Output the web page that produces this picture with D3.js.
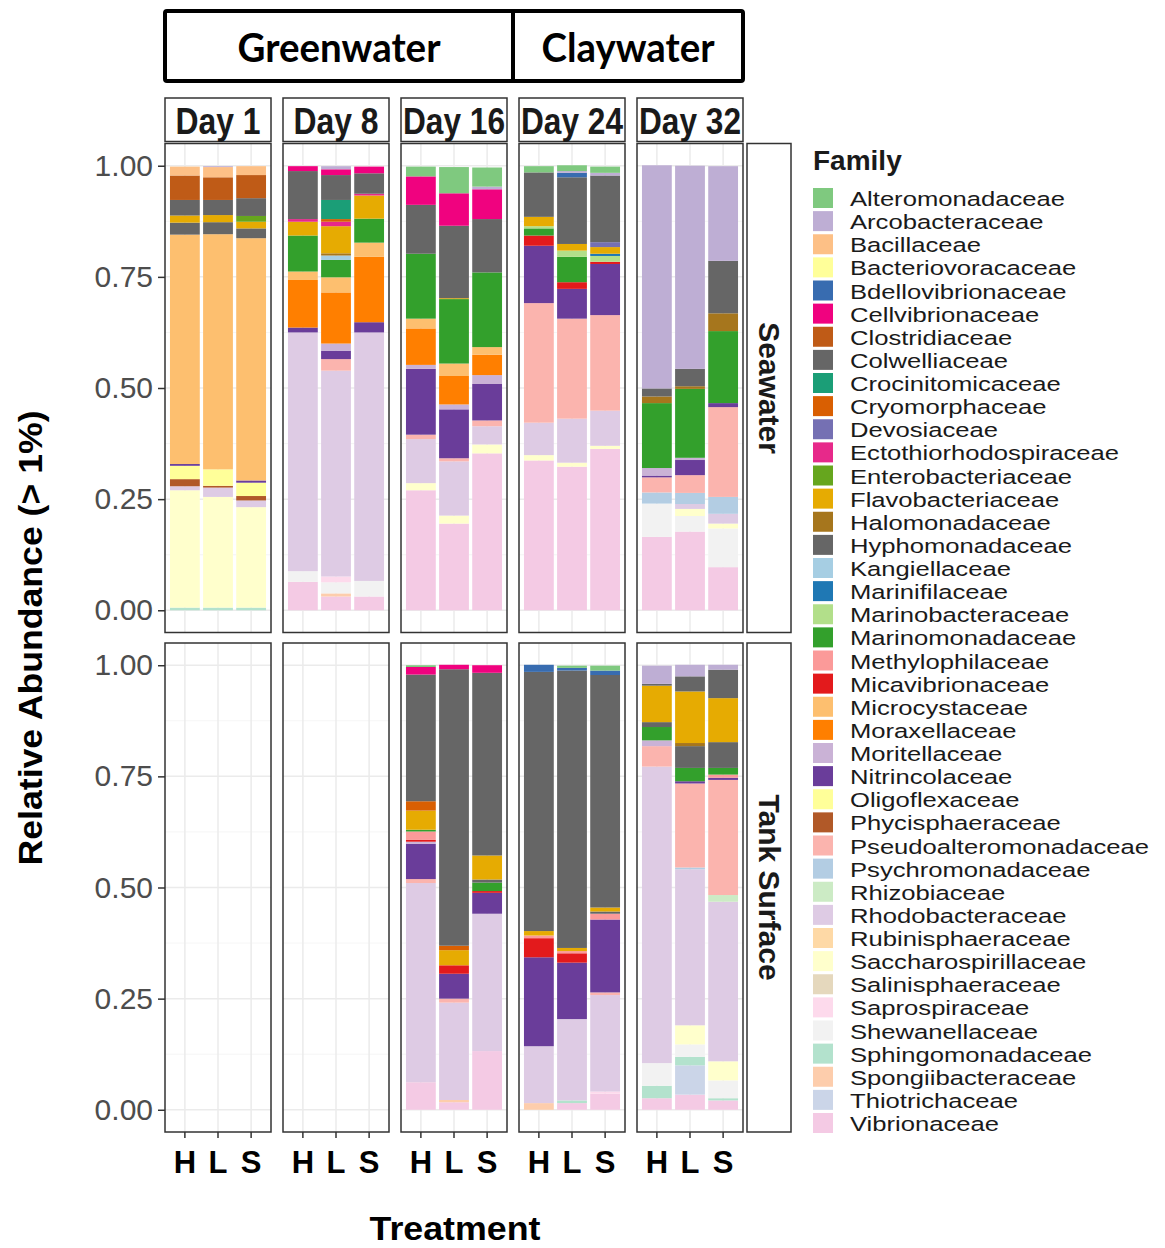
<!DOCTYPE html>
<html>
<head>
<meta charset="utf-8">
<script src="https://cdn.jsdelivr.net/npm/d3@7"></script>
<style>
  body { margin: 0; background: #fff; }
  svg text { font-family: "Liberation Sans", Arial, sans-serif; }
</style>
</head>
<body>
<div id="chart"></div>
<script>
// Families in legend order (first one sits on top of each bar)
const families = [
  "Alteromonadaceae", "Arcobacteraceae", "Bacillaceae", "Bacteriovoracaceae",
  "Bdellovibrionaceae", "Cellvibrionaceae", "Clostridiaceae", "Colwelliaceae",
  "Crocinitomicaceae", "Cryomorphaceae", "Devosiaceae", "Ectothiorhodospiraceae",
  "Enterobacteriaceae", "Flavobacteriaceae", "Halomonadaceae", "Hyphomonadaceae",
  "Kangiellaceae", "Marinifilaceae", "Marinobacteraceae", "Marinomonadaceae",
  "Methylophilaceae", "Micavibrionaceae", "Microcystaceae", "Moraxellaceae",
  "Moritellaceae", "Nitrincolaceae", "Oligoflexaceae", "Phycisphaeraceae",
  "Pseudoalteromonadaceae", "Psychromonadaceae", "Rhizobiaceae", "Rhodobacteraceae",
  "Rubinisphaeraceae", "Saccharospirillaceae", "Salinisphaeraceae", "Saprospiraceae",
  "Shewanellaceae", "Sphingomonadaceae", "Spongiibacteraceae", "Thiotrichaceae",
  "Vibrionaceae"
];
const familyColors = [
  "#7fc97f", "#beaed4", "#fdc086", "#ffff99", "#386cb0", "#f0027f", "#bf5b17", "#666666",
  "#1b9e77", "#d95f02", "#7570b3", "#e7298a", "#66a61e", "#e6ab02", "#a6761d", "#666666",
  "#a6cee3", "#1f78b4", "#b2df8a", "#33a02c", "#fb9a99", "#e31a1c", "#fdbf6f", "#ff7f00",
  "#cab2d6", "#6a3d9a", "#ffff99", "#b15928", "#fbb4ae", "#b3cde3", "#ccebc5", "#decbe4",
  "#fed9a6", "#ffffcc", "#e5d8bd", "#fddaec", "#f2f2f2", "#b3e2cd", "#fdcdac", "#cbd5e8",
  "#f4cae4"
];
const days = ["Day 1", "Day 8", "Day 16", "Day 24", "Day 32"];
const treatments = ["H", "L", "S"];
const habitats = ["Seawater", "Tank Surface"];
const yTicks = [0, 0.25, 0.5, 0.75, 1];
const yMinor = [0.125, 0.375, 0.625, 0.875];
const waterTypes = ["Greenwater", "Claywater"];

// Relative abundance per sample, one object per treatment (H, L, S)
const seaDay1 = [
  {Bacillaceae: .020, Clostridiaceae: .055, Colwelliaceae: .035, Flavobacteriaceae: .016, Hyphomonadaceae: .027,
   Microcystaceae: .516, Nitrincolaceae: .004, Oligoflexaceae: .030, Phycisphaeraceae: .016, Rhodobacteraceae: .009,
   Saccharospirillaceae: .264, Sphingomonadaceae: .006},
  {Arcobacteraceae: .002, Bacillaceae: .023, Clostridiaceae: .051, Colwelliaceae: .034, Flavobacteriaceae: .016,
   Hyphomonadaceae: .027, Microcystaceae: .529, Oligoflexaceae: .037, Phycisphaeraceae: .004, Rhodobacteraceae: .021,
   Saccharospirillaceae: .249, Sphingomonadaceae: .006},
  {Bacillaceae: .020, Clostridiaceae: .052, Colwelliaceae: .040, Enterobacteriaceae: .013, Flavobacteriaceae: .015,
   Hyphomonadaceae: .022, Microcystaceae: .545, Nitrincolaceae: .005, Oligoflexaceae: .030, Phycisphaeraceae: .010,
   Rhodobacteraceae: .015, Saccharospirillaceae: .226, Sphingomonadaceae: .006}
];
const seaDay8 = [
  {Cellvibrionaceae: .011, Colwelliaceae: .108, Ectothiorhodospiraceae: .006, Flavobacteriaceae: .031,
   Marinomonadaceae: .081, Microcystaceae: .019, Moraxellaceae: .107, Nitrincolaceae: .011, Rhodobacteraceae: .537,
   Shewanellaceae: .024, Vibrionaceae: .064},
  {Arcobacteraceae: .007, Cellvibrionaceae: .013, Colwelliaceae: .056, Crocinitomicaceae: .043, Cryomorphaceae: .006,
   Ectothiorhodospiraceae: .010, Flavobacteriaceae: .061, Halomonadaceae: .005, Kangiellaceae: .010,
   Marinomonadaceae: .039, Microcystaceae: .034, Moraxellaceae: .115, Moritellaceae: .016, Nitrincolaceae: .019,
   Pseudoalteromonadaceae: .026, Rhodobacteraceae: .463, Saprospiraceae: .013, Shewanellaceae: .025,
   Spongiibacteraceae: .007, Vibrionaceae: .031},
  {Cellvibrionaceae: .015, Colwelliaceae: .046, Ectothiorhodospiraceae: .004, Flavobacteriaceae: .052,
   Marinomonadaceae: .054, Microcystaceae: .032, Moraxellaceae: .147, Nitrincolaceae: .023, Rhodobacteraceae: .559,
   Shewanellaceae: .035, Vibrionaceae: .031}
];
const seaDay16 = [
  {Alteromonadaceae: .022, Cellvibrionaceae: .064, Colwelliaceae: .110, Marinomonadaceae: .146, Microcystaceae: .022,
   Moraxellaceae: .082, Moritellaceae: .009, Nitrincolaceae: .148, Pseudoalteromonadaceae: .010,
   Rhodobacteraceae: .099, Saccharospirillaceae: .016, Vibrionaceae: .270},
  {Alteromonadaceae: .059, Cellvibrionaceae: .073, Colwelliaceae: .163, Flavobacteriaceae: .002, Marinomonadaceae: .145,
   Microcystaceae: .028, Moraxellaceae: .064, Moritellaceae: .011, Nitrincolaceae: .110, Pseudoalteromonadaceae: .007,
   Rhodobacteraceae: .122, Saccharospirillaceae: .018, Vibrionaceae: .195},
  {Alteromonadaceae: .043, Arcobacteraceae: .006, Cellvibrionaceae: .067, Colwelliaceae: .120, Marinomonadaceae: .168,
   Microcystaceae: .017, Moraxellaceae: .046, Moritellaceae: .020, Nitrincolaceae: .082, Pseudoalteromonadaceae: .013,
   Rhodobacteraceae: .041, Saccharospirillaceae: .020, Vibrionaceae: .353}
];
const seaDay24 = [
  {Alteromonadaceae: .014, Colwelliaceae: .100, Flavobacteriaceae: .021, Marinobacteraceae: .005, Marinomonadaceae: .016,
   Micavibrionaceae: .023, Nitrincolaceae: .129, Pseudoalteromonadaceae: .269, Rhodobacteraceae: .073,
   Saccharospirillaceae: .012, Vibrionaceae: .337},
  {Alteromonadaceae: .013, Arcobacteraceae: .004, Bdellovibrionaceae: .010, Colwelliaceae: .150, Flavobacteriaceae: .015,
   Marinobacteraceae: .014, Marinomonadaceae: .057, Micavibrionaceae: .015, Nitrincolaceae: .067,
   Pseudoalteromonadaceae: .225, Rhodobacteraceae: .099, Saccharospirillaceae: .009, Vibrionaceae: .323},
  {Alteromonadaceae: .014, Arcobacteraceae: .006, Colwelliaceae: .150, Devosiaceae: .011, Flavobacteriaceae: .015,
   Marinifilaceae: .005, Marinobacteraceae: .013, Micavibrionaceae: .005, Nitrincolaceae: .115,
   Pseudoalteromonadaceae: .215, Rhodobacteraceae: .079, Saccharospirillaceae: .007, Vibrionaceae: .363}
];
const seaDay32 = [
  {Arcobacteraceae: .502, Colwelliaceae: .018, Halomonadaceae: .015, Marinomonadaceae: .146, Moritellaceae: .017,
   Nitrincolaceae: .004, Pseudoalteromonadaceae: .034, Psychromonadaceae: .025, Shewanellaceae: .075,
   Vibrionaceae: .165},
  {Arcobacteraceae: .457, Colwelliaceae: .039, Halomonadaceae: .006, Marinomonadaceae: .155, Moritellaceae: .005,
   Nitrincolaceae: .034, Pseudoalteromonadaceae: .040, Psychromonadaceae: .025, Rhodobacteraceae: .011,
   Saccharospirillaceae: .016, Shewanellaceae: .035, Vibrionaceae: .177},
  {Arcobacteraceae: .213, Colwelliaceae: .118, Halomonadaceae: .040, Marinomonadaceae: .162, Nitrincolaceae: .009,
   Pseudoalteromonadaceae: .202, Psychromonadaceae: .038, Rhodobacteraceae: .022, Saccharospirillaceae: .011,
   Shewanellaceae: .087, Vibrionaceae: .097}
];
const tankDay1 = [];
const tankDay8 = [];
const tankDay16 = [
  {Alteromonadaceae: .004, Cellvibrionaceae: .017, Colwelliaceae: .285, Cryomorphaceae: .021, Flavobacteriaceae: .043,
   Marinomonadaceae: .004, Methylophilaceae: .019, Micavibrionaceae: .004, Moritellaceae: .005, Nitrincolaceae: .079,
   Pseudoalteromonadaceae: .009, Rhodobacteraceae: .448, Vibrionaceae: .062},
  {Cellvibrionaceae: .010, Colwelliaceae: .622, Cryomorphaceae: .010, Flavobacteriaceae: .034, Micavibrionaceae: .019,
   Nitrincolaceae: .056, Pseudoalteromonadaceae: .009, Rhodobacteraceae: .219, Spongiibacteraceae: .005,
   Vibrionaceae: .017},
  {Cellvibrionaceae: .017, Colwelliaceae: .411, Flavobacteriaceae: .054, Hyphomonadaceae: .007, Marinomonadaceae: .019,
   Micavibrionaceae: .004, Nitrincolaceae: .047, Rhodobacteraceae: .309, Vibrionaceae: .132}
];
const tankDay24 = [
  {Bdellovibrionaceae: .016, Colwelliaceae: .583, Flavobacteriaceae: .010, Methylophilaceae: .006,
   Micavibrionaceae: .043, Nitrincolaceae: .200, Rhodobacteraceae: .128, Spongiibacteraceae: .015},
  {Alteromonadaceae: .005, Bdellovibrionaceae: .006, Colwelliaceae: .624, Flavobacteriaceae: .007,
   Methylophilaceae: .005, Micavibrionaceae: .021, Nitrincolaceae: .127, Rhodobacteraceae: .183,
   Sphingomonadaceae: .006, Vibrionaceae: .015},
  {Alteromonadaceae: .011, Bdellovibrionaceae: .010, Colwelliaceae: .523, Flavobacteriaceae: .009,
   Hyphomonadaceae: .005, Methylophilaceae: .013, Nitrincolaceae: .164, Pseudoalteromonadaceae: .006,
   Rhodobacteraceae: .217, Saprospiraceae: .005, Vibrionaceae: .036}
];
const tankDay32 = [
  {Arcobacteraceae: .041, Colwelliaceae: .004, Flavobacteriaceae: .082, Hyphomonadaceae: .011, Marinomonadaceae: .030,
   Moritellaceae: .013, Pseudoalteromonadaceae: .046, Rhodobacteraceae: .667, Shewanellaceae: .051,
   Sphingomonadaceae: .028, Vibrionaceae: .026},
  {Arcobacteraceae: .026, Colwelliaceae: .034, Flavobacteriaceae: .116, Halomonadaceae: .007, Hyphomonadaceae: .049,
   Marinomonadaceae: .030, Nitrincolaceae: .005, Pseudoalteromonadaceae: .189, Psychromonadaceae: .004,
   Rhodobacteraceae: .351, Saccharospirillaceae: .043, Shewanellaceae: .028, Sphingomonadaceae: .019,
   Thiotrichaceae: .066, Vibrionaceae: .034},
  {Arcobacteraceae: .011, Colwelliaceae: .064, Flavobacteriaceae: .099, Hyphomonadaceae: .058, Marinomonadaceae: .015,
   Methylophilaceae: .007, Nitrincolaceae: .005, Pseudoalteromonadaceae: .259, Rhizobiaceae: .015,
   Rhodobacteraceae: .359, Saccharospirillaceae: .043, Shewanellaceae: .040, Sphingomonadaceae: .005,
   Vibrionaceae: .021}
];

const panelData = [
  [seaDay1, seaDay8, seaDay16, seaDay24, seaDay32],
  [tankDay1, tankDay8, tankDay16, tankDay24, tankDay32]
];

let W = 1165, H = 1248,
  color = d3.scaleOrdinal().domain(families).range(familyColors),
  // facet layout
  col = d3.scaleBand().domain(days).range([165, 743]).paddingInner(12 / 118),
  row = d3.scaleBand().domain(habitats).range([143.5, 1132]).paddingInner(10.5 / 499.5),
  x = d3.scaleBand().domain(treatments).range([0, col.bandwidth()]).paddingInner(0.1).paddingOuter(0.15),
  y = d3.scaleLinear().domain([-0.05, 1.05]).range([row.bandwidth(), 0]),
  // first family ends up on top of the stack
  stack = d3.stack().keys(families.slice().reverse()).value((d, k) => d[k] || 0);

let svg = d3.select('#chart').append('svg')
  .attr('width', W).attr('height', H);

// header box Greenwater | Claywater
let head = svg.append('g');
head.append('rect')
  .attr('x', 165).attr('y', 11).attr('width', 578).attr('height', 70)
  .attr('rx', 2).attr('fill', '#fff').attr('stroke', '#000').attr('stroke-width', 4);
let split = (col('Day 16') + col.bandwidth() + col('Day 24')) / 2;
head.append('line')
  .attr('x1', split).attr('x2', split).attr('y1', 11).attr('y2', 81)
  .attr('stroke', '#000').attr('stroke-width', 4);
[[165, split, 203], [split, 743, 173]].forEach((b, i) => {
  head.append('text')
    .attr('x', (b[0] + b[1]) / 2).attr('y', 47)
    .attr('text-anchor', 'middle').attr('dominant-baseline', 'central')
    .attr('textLength', b[2]).attr('lengthAdjust', 'spacingAndGlyphs')
    .style('font-family', 'Lato, "Open Sans", sans-serif')
    .style('font-weight', 'bold').style('font-size', '40px')
    .text(waterTypes[i]);
});

// day strips
days.forEach(d => {
  let g = svg.append('g').attr('transform', 'translate(' + col(d) + ',98)');
  g.append('rect').attr('width', col.bandwidth()).attr('height', 43.5)
    .attr('fill', '#fff').attr('stroke', '#333').attr('stroke-width', 1.5);
  g.append('text')
    .attr('x', col.bandwidth() / 2).attr('y', 23)
    .attr('text-anchor', 'middle').attr('dominant-baseline', 'central')
    .attr('textLength', d.length * 17).attr('lengthAdjust', 'spacingAndGlyphs')
    .style('font-weight', 'bold').style('font-size', '37px').attr('fill', '#1a1a1a')
    .text(d);
});

// habitat strips on the right
habitats.forEach(h => {
  let g = svg.append('g').attr('transform', 'translate(747,' + row(h) + ')');
  g.append('rect').attr('width', 44).attr('height', row.bandwidth())
    .attr('fill', '#fff').attr('stroke', '#333').attr('stroke-width', 1.5);
  g.append('text')
    .attr('transform', 'translate(22,' + (row.bandwidth() / 2) + ') rotate(90)')
    .attr('text-anchor', 'middle').attr('dominant-baseline', 'central')
    .style('font-weight', 'bold').style('font-size', '30px').attr('fill', '#1a1a1a')
    .text(h);
});

// panels
habitats.forEach((h, r) => {
  days.forEach((d, c) => {
    let g = svg.append('g')
      .attr('transform', 'translate(' + col(d) + ',' + row(h) + ')');

    // grid
    g.selectAll('.minor').data(yMinor).enter().append('line')
      .attr('x1', 0).attr('x2', col.bandwidth())
      .attr('y1', v => y(v)).attr('y2', v => y(v))
      .attr('stroke', '#f2f2f2').attr('stroke-width', 0.8);
    g.selectAll('.major').data(yTicks).enter().append('line')
      .attr('x1', 0).attr('x2', col.bandwidth())
      .attr('y1', v => y(v)).attr('y2', v => y(v))
      .attr('stroke', '#ebebeb').attr('stroke-width', 1.5);
    g.selectAll('.vgrid').data(treatments).enter().append('line')
      .attr('x1', t => x(t) + x.bandwidth() / 2).attr('x2', t => x(t) + x.bandwidth() / 2)
      .attr('y1', 0).attr('y2', row.bandwidth())
      .attr('stroke', '#ebebeb').attr('stroke-width', 1.5);

    // stacked bars
    let rows = panelData[r][c];
    if (rows.length) {
      let series = stack(rows);
      g.selectAll('.fam').data(series).enter().append('g')
        .attr('fill', s => color(s.key))
        .selectAll('rect').data(s => s.filter(p => p[1] - p[0] > 0)).enter().append('rect')
        .attr('x', p => x(treatments[rows.indexOf(p.data)]))
        .attr('width', x.bandwidth())
        .attr('y', p => y(p[1]))
        .attr('height', p => y(p[0]) - y(p[1]));
    }

    // panel border
    g.append('rect').attr('width', col.bandwidth()).attr('height', row.bandwidth())
      .attr('fill', 'none').attr('stroke', '#333').attr('stroke-width', 1.5);
  });

  // y axis
  let ax = svg.append('g')
    .attr('transform', 'translate(165,' + row(h) + ')')
    .call(d3.axisLeft(y).tickValues(yTicks).tickFormat(d3.format('.2f')).tickSize(7).tickPadding(5));
  ax.select('.domain').remove();
  ax.selectAll('line').attr('stroke', '#333').attr('stroke-width', 1.5);
  ax.selectAll('text').attr('fill', '#4d4d4d').style('font-size', '30px').style('font-family', '"Liberation Sans", Arial, sans-serif');
});

// x axes
days.forEach(d => {
  let ax = svg.append('g')
    .attr('transform', 'translate(' + col(d) + ',' + (row('Tank Surface') + row.bandwidth()) + ')')
    .call(d3.axisBottom(x).tickSize(6).tickPadding(13));
  ax.select('.domain').remove();
  ax.selectAll('line').attr('stroke', '#333').attr('stroke-width', 1.5);
  ax.selectAll('text').attr('fill', '#000').style('font-size', '31px')
    .style('font-weight', 'bold').style('font-family', '"Liberation Sans", Arial, sans-serif');
});

// axis titles
svg.append('text')
  .attr('transform', 'translate(30,638) rotate(-90)')
  .attr('text-anchor', 'middle').attr('dominant-baseline', 'central')
  .attr('textLength', 455).attr('lengthAdjust', 'spacingAndGlyphs')
  .style('font-weight', 'bold').style('font-size', '34px')
  .text('Relative Abundance (> 1%)');
svg.append('text')
  .attr('x', 455).attr('y', 1240)
  .attr('text-anchor', 'middle')
  .attr('textLength', 171).attr('lengthAdjust', 'spacingAndGlyphs')
  .style('font-weight', 'bold').style('font-size', '33px')
  .text('Treatment');

// legend
let legend = svg.append('g').attr('transform', 'translate(813,0)');
legend.append('text').attr('x', 0).attr('y', 160)
  .attr('dominant-baseline', 'central')
  .style('font-weight', 'bold').style('font-size', '28px').attr('fill', '#1a1a1a')
  .text('Family');
let item = legend.selectAll('.item').data(families).enter().append('g')
  .attr('transform', (f, i) => 'translate(0,' + (198 + i * 23.125) + ')');
item.append('rect')
  .attr('x', 0).attr('y', -10).attr('width', 20).attr('height', 20)
  .attr('fill', f => color(f));
item.append('text')
  .attr('transform', 'translate(37,1) scale(1.25,1)')
  .attr('dominant-baseline', 'central')
  .style('font-size', '20.5px').attr('fill', '#1a1a1a')
  .text(f => f);
</script>
</body>
</html>
